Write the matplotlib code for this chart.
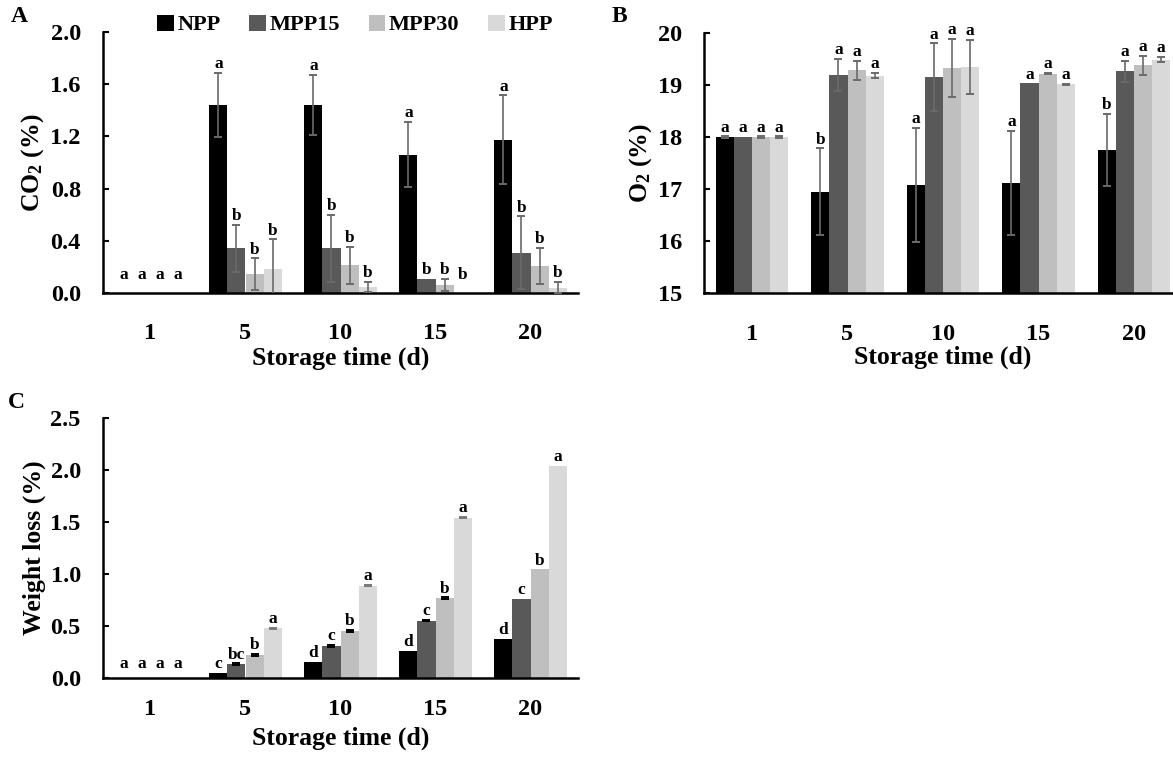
import numpy as np
import matplotlib
matplotlib.use("Agg")
import matplotlib.pyplot as plt
from matplotlib.patches import Patch

plt.rcParams['font.family'] = ['Liberation Serif', 'DejaVu Serif']
plt.rcParams['font.weight'] = 'bold'
plt.rcParams['mathtext.fontset'] = 'custom'
plt.rcParams['mathtext.rm'] = 'Liberation Serif:bold'
plt.rcParams['mathtext.bf'] = 'Liberation Serif:bold'
plt.rcParams['mathtext.it'] = 'Liberation Serif:bold'

nan = np.nan

# ---- categories and treatments ----
days = ['1', '5', '10', '15', '20']
treatments = ['NPP', 'MPP15', 'MPP30', 'HPP']
bar_colors = ['#000000', '#595959', '#bfbfbf', '#d9d9d9']

# ---- CO2 (%) ----
co2_npp = [0.0, 1.44, 1.44, 1.06, 1.175]
co2_mpp15 = [0.0, 0.34, 0.34, 0.108, 0.306]
co2_mpp30 = [0.0, 0.143, 0.21, 0.059, 0.206]
co2_hpp = [0.0, 0.179, 0.044, 0.0, 0.039]
co2_npp_err = [nan, 0.245, 0.23, 0.25, 0.34]
co2_mpp15_err = [nan, 0.18, 0.26, nan, 0.28]
co2_mpp30_err = [nan, 0.12, 0.14, 0.044, 0.14]
co2_hpp_err = [nan, 0.23, 0.04, nan, 0.045]
co2_npp_sig = ['a', 'a', 'a', 'a', 'a']
co2_mpp15_sig = ['a', 'b', 'b', 'b', 'b']
co2_mpp30_sig = ['a', 'b', 'b', 'b', 'b']
co2_hpp_sig = ['a', 'b', 'b', 'b', 'b']

# ---- O2 (%) ----
o2_npp = [18.0, 16.95, 17.08, 17.12, 17.75]
o2_mpp15 = [18.0, 19.19, 19.15, 19.03, 19.26]
o2_mpp30 = [18.0, 19.28, 19.33, 19.22, 19.38]
o2_hpp = [18.0, 19.18, 19.35, 19.01, 19.49]
o2_npp_err = [0.01, 0.83, 1.10, 1.00, 0.70]
o2_mpp15_err = [nan, 0.31, 0.65, nan, 0.21]
o2_mpp30_err = [0.01, 0.18, 0.56, 0.01, 0.18]
o2_hpp_err = [0.01, 0.05, 0.52, 0.01, 0.045]
o2_npp_sig = ['a', 'b', 'a', 'a', 'b']
o2_mpp15_sig = ['a', 'a', 'a', 'a', 'a']
o2_mpp30_sig = ['a', 'a', 'a', 'a', 'a']
o2_hpp_sig = ['a', 'a', 'a', 'a', 'a']

# ---- Weight loss (%) ----
wl_npp = [0.0, 0.042, 0.148, 0.26, 0.37]
wl_mpp15 = [0.0, 0.129, 0.305, 0.55, 0.758]
wl_mpp30 = [0.0, 0.218, 0.45, 0.765, 1.044]
wl_hpp = [0.0, 0.476, 0.887, 1.542, 2.044]
wl_npp_err = [nan, nan, nan, nan, nan]
wl_mpp15_err = [nan, 0.008, 0.008, 0.008, nan]
wl_mpp30_err = [nan, 0.008, 0.008, 0.008, nan]
wl_hpp_err = [nan, 0.004, 0.004, 0.004, nan]
wl_npp_sig = ['a', 'c', 'd', 'd', 'd']
wl_mpp15_sig = ['a', 'bc', 'c', 'c', 'c']
wl_mpp30_sig = ['a', 'b', 'b', 'b', 'b']
wl_hpp_sig = ['a', 'a', 'a', 'a', 'a']

W, H = 1173, 757
fig = plt.figure(figsize=(W / 100, H / 100), dpi=100)


def px_axes(x0, y0, x1, y1):
    return fig.add_axes([x0 / W, 1 - y1 / H, (x1 - x0) / W, (y1 - y0) / H])


BAR_W = 0.19
GRAY_ERR = '#6a6a6a'


def grouped(ax, series, errors, sigs, err_colors, ylim, yticks, yfmt, ylabel,
            sig_floor, tick_pad, label_pad):
    x = np.arange(len(days))
    offsets = (np.arange(len(series)) - 1.5) * BAR_W
    for vals, errs, sig, col, ecol, off in zip(series, errors, sigs, bar_colors,
                                               err_colors, offsets):
        vals = np.asarray(vals, float)
        errs = np.asarray(errs, float)
        ax.bar(x + off, vals - ylim[0], width=BAR_W, bottom=ylim[0], color=col,
               edgecolor='none', zorder=2)
        ax.errorbar(x + off, vals, yerr=errs, fmt='none', ecolor=ecol,
                    elinewidth=1.2, capsize=3, capthick=1.4, zorder=3)
        tops = vals + np.nan_to_num(errs)
        for xi, t, s in zip(x + off, tops, sig):
            ax.annotate(s, (xi, max(t, sig_floor)), xytext=(0, 3.5),
                        textcoords='offset points', ha='center', va='baseline',
                        fontsize=12.5, fontweight='bold', zorder=4)
    ax.set_xlim(-0.5, len(days) - 0.5)
    ax.set_ylim(*ylim)
    ax.set_yticks(yticks)
    ax.set_yticklabels([yfmt.format(v) for v in yticks])
    ax.set_xticks(x)
    ax.set_xticklabels(days)
    for side in ('top', 'right'):
        ax.spines[side].set_visible(False)
    ax.spines['left'].set_linewidth(1.8)
    ax.spines['bottom'].set_linewidth(1.8)
    ax.tick_params(axis='y', direction='in', length=4.5, width=1.5, pad=16,
                   labelsize=17.5)
    ax.tick_params(axis='x', length=0, pad=tick_pad, labelsize=17.5)
    ax.set_ylabel(ylabel, fontsize=18.5, fontweight='bold', labelpad=3)
    ax.set_xlabel('Storage time (d)', fontsize=18.5, fontweight='bold',
                  labelpad=label_pad)


# Panel A: CO2
axA = px_axes(103, 32.3, 578, 292.7)
grouped(axA,
        [co2_npp, co2_mpp15, co2_mpp30, co2_hpp],
        [co2_npp_err, co2_mpp15_err, co2_mpp30_err, co2_hpp_err],
        [co2_npp_sig, co2_mpp15_sig, co2_mpp30_sig, co2_hpp_sig],
        [GRAY_ERR] * 4,
        (0.0, 2.0), [0.0, 0.4, 0.8, 1.2, 1.6, 2.0], '{:.1f}',
        r'CO$_\mathbf{2}$ (%)', 0.07, 22, 2)

# Panel B: O2
axB = px_axes(704.3, 33, 1181.8, 293)
grouped(axB,
        [o2_npp, o2_mpp15, o2_mpp30, o2_hpp],
        [o2_npp_err, o2_mpp15_err, o2_mpp30_err, o2_hpp_err],
        [o2_npp_sig, o2_mpp15_sig, o2_mpp30_sig, o2_hpp_sig],
        [GRAY_ERR] * 4,
        (15, 20), [15, 16, 17, 18, 19, 20], '{:.0f}',
        r'O$_\mathbf{2}$ (%)', 15, 22, 1)

# Panel C: weight loss
axC = px_axes(103, 418.3, 578, 677.7)
grouped(axC,
        [wl_npp, wl_mpp15, wl_mpp30, wl_hpp],
        [wl_npp_err, wl_mpp15_err, wl_mpp30_err, wl_hpp_err],
        [wl_npp_sig, wl_mpp15_sig, wl_mpp30_sig, wl_hpp_sig],
        ['#000000', '#000000', '#000000', '#7a7a7a'],
        (0.0, 2.5), [0.0, 0.5, 1.0, 1.5, 2.0, 2.5], '{:.1f}',
        'Weight loss (%)', 0.05, 15, 5)

# Panel letters
for lab, (px, py) in {'A': (19, 17), 'B': (619, 17), 'C': (16, 403)}.items():
    fig.text(px / W, 1 - py / H, lab, fontsize=17, fontweight='bold',
             ha='center', va='center')

# Shared legend across the top of panel A
handles = [Patch(facecolor=c, edgecolor='none', label=t)
           for c, t in zip(bar_colors, treatments)]
fig.legend(handles=handles, loc='center', bbox_to_anchor=(355 / W, 1 - 25 / H),
           ncol=4, frameon=False, fontsize=16, handlelength=0.75,
           handleheight=0.75, handletextpad=0.15, columnspacing=1.3,
           borderpad=0, borderaxespad=0)

fig.savefig('out.png', dpi=100)
